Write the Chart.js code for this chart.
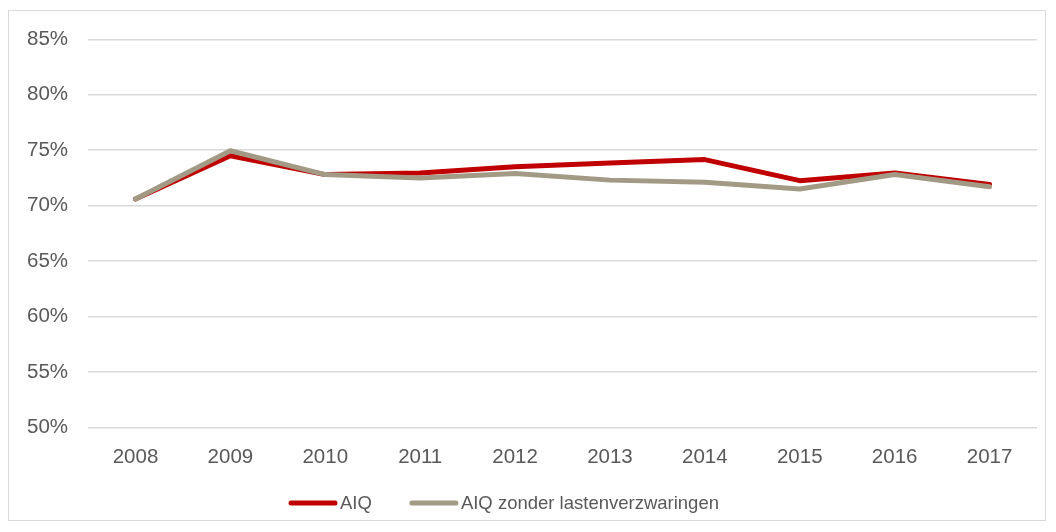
<!DOCTYPE html>
<html>
<head>
<meta charset="utf-8">
<script src="https://cdn.jsdelivr.net/npm/chart.js@4"></script>
<style>
  html, body { margin: 0; padding: 0; background: #fff; }
  #wrap {
    position: absolute; left: 8px; top: 10px;
    width: 1038px; height: 511px;
    border: 1px solid #d9d9d9; box-sizing: border-box;
  }
</style>
</head>
<body>
<div id="wrap"><canvas id="aiqChart"></canvas></div>
<script>
  // categories + series (percent)
  const years = ["2008", "2009", "2010", "2011", "2012", "2013", "2014", "2015", "2016", "2017"];
  const aiq = [70.6, 74.5, 72.8, 72.95, 73.5, 73.85, 74.15, 72.25, 72.95, 71.9];
  const aiqZonder = [70.6, 74.95, 72.8, 72.5, 72.9, 72.3, 72.1, 71.5, 72.8, 71.7];
  const yTicks = [50, 55, 60, 65, 70, 75, 80, 85];

  const RED = "#C00000";
  const TAN = "#A39A86";
  const FONT = "'Liberation Sans', Arial, sans-serif";

  Chart.defaults.font.family = FONT;
  Chart.defaults.font.size = 20.5;
  Chart.defaults.color = "#595959";

  // excel-ish legend: short thick line, text right next to it
  const lineLegend = {
    id: "lineLegend",
    afterDraw(chart) {
      const ctx = chart.ctx;
      const sets = chart.data.datasets;
      const lineLen = 48, gapText = 3, gapItem = 38;
      ctx.save();
      ctx.font = "18.5px " + FONT;
      ctx.textBaseline = "middle";
      const widths = sets.map((d) => lineLen + gapText + ctx.measureText(d.label).width);
      const total = widths.reduce((a, b) => a + b, 0) + gapItem * (sets.length - 1);
      let x = chart.width / 2 - 23 - total / 2;
      const y = chart.height - 17;
      sets.forEach((d, i) => {
        ctx.strokeStyle = d.borderColor;
        ctx.lineWidth = 5;
        ctx.lineCap = "round";
        ctx.beginPath();
        ctx.moveTo(x + 2, y);
        ctx.lineTo(x + lineLen - 2, y);
        ctx.stroke();
        ctx.fillStyle = "#595959";
        ctx.fillText(d.label, x + lineLen + gapText, y + 1);
        x += widths[i] + gapItem;
      });
      ctx.restore();
    },
  };

  new Chart(document.getElementById("aiqChart").getContext("2d"), {
    type: "line",
    data: {
      labels: years,
      datasets: [
        {
          label: "AIQ",
          data: aiq,
          borderColor: RED,
          backgroundColor: RED,
          borderWidth: 5,
          pointRadius: 0,
          borderCapStyle: "round",
          borderJoinStyle: "round",
          tension: 0,
          order: 1,
        },
        {
          label: "AIQ zonder lastenverzwaringen",
          data: aiqZonder,
          borderColor: TAN,
          backgroundColor: TAN,
          borderWidth: 5,
          pointRadius: 0,
          borderCapStyle: "round",
          borderJoinStyle: "round",
          tension: 0,
          order: 0,
        },
      ],
    },
    options: {
      responsive: true,
      maintainAspectRatio: false,
      animation: false,
      layout: { padding: { left: 2, right: 8, top: 18, bottom: 32 } },
      plugins: {
        tooltip: { enabled: false },
        legend: { display: false },
      },
      scales: {
        x: {
          offset: true,
          grid: { display: false, drawTicks: false },
          border: { display: false },
          ticks: { padding: 18 },
        },
        y: {
          min: 50,
          max: 85,
          afterBuildTicks: (axis) => {
            axis.ticks = yTicks.map((v) => ({ value: v }));
          },
          grid: {
            color: "#d9d9d9",
            lineWidth: 1.5,
            drawTicks: true,
            tickLength: 4,
            tickColor: "rgba(0,0,0,0)",
          },
          border: { display: false },
          ticks: {
            padding: 16,
            callback: (v) => v + "%",
          },
        },
      },
    },
    plugins: [lineLegend],
  });
</script>
</body>
</html>
